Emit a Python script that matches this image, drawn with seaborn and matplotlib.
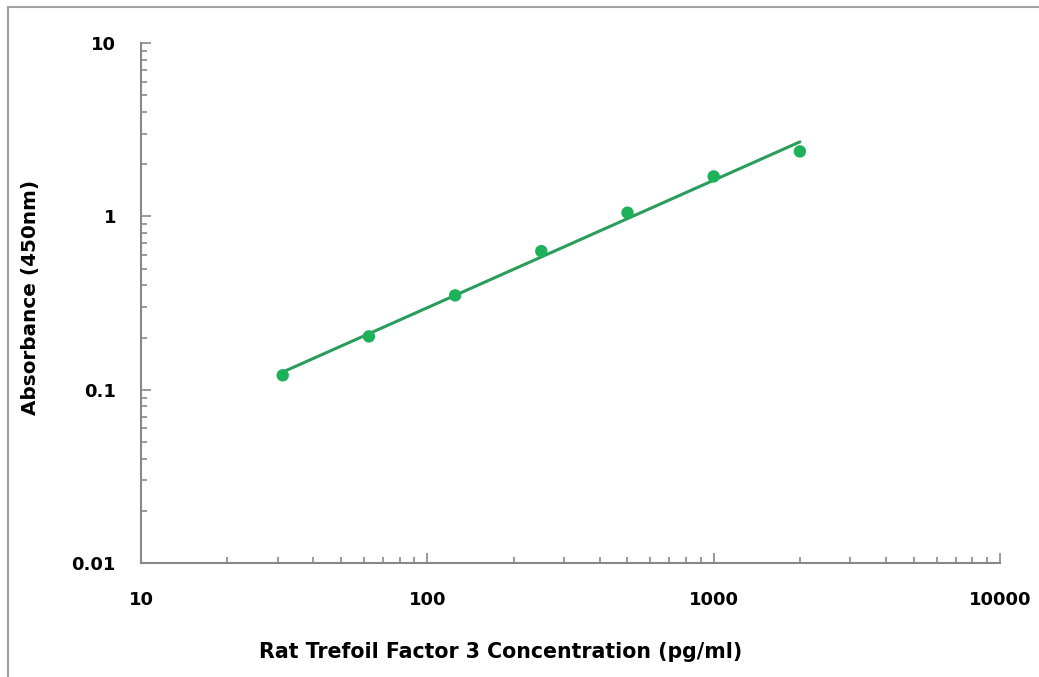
import numpy as np
import pandas as pd
import matplotlib
matplotlib.use("Agg")
import matplotlib.pyplot as plt
import seaborn as sns
from matplotlib.ticker import LogLocator, NullFormatter, FixedLocator, FixedFormatter
from matplotlib.patches import Rectangle

# standard curve readings
concentration = [31.25, 62.5, 125, 250, 500, 1000, 2000]
absorbance = [0.121, 0.203, 0.35, 0.63, 1.05, 1.70, 2.37]

x_ticks = [10, 100, 1000, 10000]
x_tick_labels = ["10", "100", "1000", "10000"]
y_ticks = [0.01, 0.1, 1, 10]
y_tick_labels = ["0.01", "0.1", "1", "10"]

df = pd.DataFrame({"conc": concentration, "od": absorbance})

# power fit (straight line in log-log space)
slope, intercept = np.polyfit(np.log10(df["conc"]), np.log10(df["od"]), 1)
fit = pd.DataFrame({"conc": [min(concentration), max(concentration)]})
fit["od"] = 10 ** (intercept + slope * np.log10(fit["conc"]))

sns.set_style("white")
plt.rcParams["font.family"] = ["DejaVu Sans"]

fig = plt.figure(figsize=(10.39, 6.77), dpi=100)
ax = fig.add_axes([0.1357, 0.1684, 0.8268, 0.768])

# thin grey frame round the picture
fig.patches.append(Rectangle((8 / 1039, -0.1), 1.2, 1 - 7 / 677 + 0.1, transform=fig.transFigure,
                             fill=False, edgecolor="#a0a0a0", linewidth=1.5))

sns.lineplot(data=fit, x="conc", y="od", ax=ax, color="#2a9d5c", linewidth=2.2)
sns.scatterplot(data=df, x="conc", y="od", ax=ax, color="#1db25a", s=80, edgecolor="none", zorder=3)

ax.set_xscale("log")
ax.set_yscale("log")
ax.set_xlim(10, 10000)
ax.set_ylim(0.01, 10)

ax.xaxis.set_major_locator(FixedLocator(x_ticks))
ax.xaxis.set_major_formatter(FixedFormatter(x_tick_labels))
ax.yaxis.set_major_locator(FixedLocator(y_ticks))
ax.yaxis.set_major_formatter(FixedFormatter(y_tick_labels))
for axis in (ax.xaxis, ax.yaxis):
    axis.set_minor_locator(LogLocator(base=10, subs=np.arange(2, 10), numticks=20))
    axis.set_minor_formatter(NullFormatter())

for side in ["top", "right"]:
    ax.spines[side].set_visible(False)
for side in ["left", "bottom"]:
    ax.spines[side].set_color("#888888")
    ax.spines[side].set_linewidth(1.5)

ax.tick_params(which="both", bottom=True, left=True, direction="in", color="#888888", width=1.2)
ax.tick_params(which="major", length=7)
ax.tick_params(which="minor", length=4)
ax.tick_params(axis="x", which="major", pad=20, labelsize=13, labelcolor="black")
ax.tick_params(axis="y", which="major", pad=18, labelsize=13, labelcolor="black")
for lab in ax.get_xticklabels() + ax.get_yticklabels():
    lab.set_fontweight("bold")

ax.set_xlabel("Rat Trefoil Factor 3 Concentration (pg/ml)", fontsize=14.8, fontweight="bold", color="black")
ax.set_ylabel("Absorbance (450nm)", fontsize=14.4, fontweight="bold", color="black")
ax.xaxis.set_label_coords(0.419, -0.151)
ax.yaxis.set_label_coords(-0.118, 0.51)

fig.savefig("out.png", dpi=100)
